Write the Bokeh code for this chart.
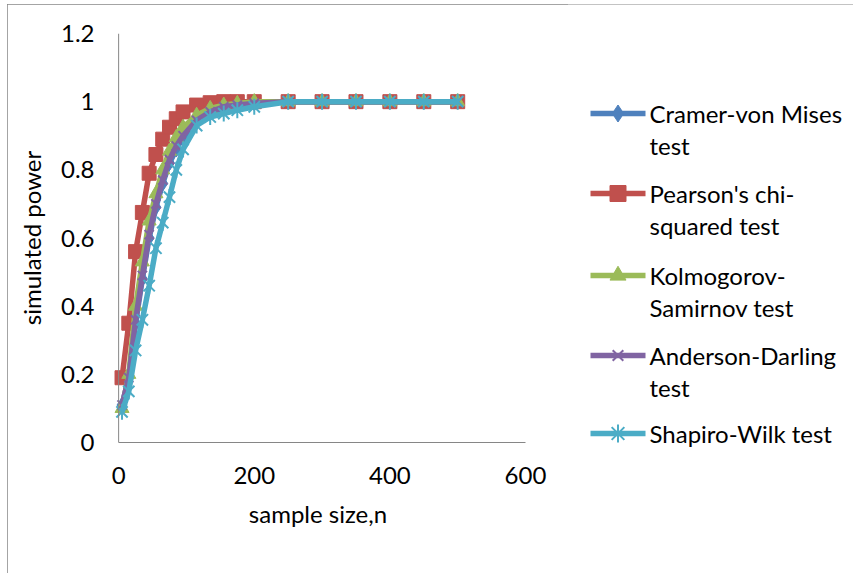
from bokeh.plotting import figure
from bokeh.layouts import row
from bokeh.models import Range1d, FixedTicker, Span
from bokeh.core.properties import value
from bokeh.embed import file_html
from bokeh.resources import INLINE
import math

# ---- data ----
sample_size = [5, 15, 25, 35, 45, 55, 65, 75, 85, 95, 115, 135, 155, 175, 200,
               250, 300, 350, 400, 450, 500]
cramer_von_mises = [0.11, 0.19, 0.35, 0.48, 0.60, 0.69, 0.76, 0.82, 0.86, 0.895,
                    0.94, 0.965, 0.98, 0.99, 0.995, 1, 1, 1, 1, 1, 1]
pearson_chi_squared = [0.19, 0.35, 0.56, 0.675, 0.79, 0.845, 0.89, 0.925, 0.95, 0.97,
                       0.99, 0.997, 1.0, 1.0, 1.0, 1, 1, 1, 1, 1, 1]
kolmogorov_smirnov = [0.10, 0.20, 0.40, 0.53, 0.65, 0.73, 0.80, 0.855, 0.895, 0.925,
                      0.96, 0.98, 0.99, 0.995, 1.0, 1, 1, 1, 1, 1, 1]
anderson_darling = [0.11, 0.19, 0.36, 0.49, 0.61, 0.70, 0.77, 0.83, 0.87, 0.90,
                    0.945, 0.97, 0.985, 0.99, 0.995, 1, 1, 1, 1, 1, 1]
shapiro_wilk = [0.09, 0.15, 0.27, 0.36, 0.46, 0.57, 0.645, 0.72, 0.80, 0.86,
                0.93, 0.955, 0.965, 0.975, 0.985, 1, 1, 1, 1, 1, 1]

x_ticks = [0, 200, 400, 600]
y_ticks = [0, 0.2, 0.4, 0.6, 0.8, 1.0, 1.2]
y_tick_labels = ["0", "0.2", "0.4", "0.6", "0.8", "1", "1.2"]

legend_lines = [
    ["Cramer-von Mises", "test"],
    ["Pearson's chi-", "squared test"],
    ["Kolmogorov-", "Samirnov test"],
    ["Anderson-Darling", "test"],
    ["Shapiro-Wilk test"],
]

# ---- styles ----
FONT = "Lato"
FS = "24px"
AXIS_COLOR = "#868686"
colors = ["#4F81BD", "#C0504D", "#9BBB59", "#8064A2", "#4BACC6"]
series = [cramer_von_mises, pearson_chi_squared, kolmogorov_smirnov,
          anderson_darling, shapiro_wilk]
markers = ["diamond", "square", "triangle", "x", "star6"]
msizes = [15, 14, 14, 13, 16]

TOP_M, LEFT_M = 4, 7
W1, W2, H = 560, 286, 570

p = figure(width=W1, height=H, output_backend="svg", toolbar_location=None,
           x_range=Range1d(-12, 600), y_range=Range1d(0, 1.2),
           min_border_left=103, min_border_right=42,
           min_border_top=29, min_border_bottom=132)
p.outline_line_color = None
p.grid.visible = False
p.background_fill_color = "white"
p.border_fill_color = "white"

p.xaxis.ticker = FixedTicker(ticks=x_ticks)
p.xaxis.bounds = (0, 600)
p.yaxis.ticker = FixedTicker(ticks=y_ticks)
p.yaxis.major_label_overrides = dict(zip(y_ticks, y_tick_labels))
for ax in (p.xaxis, p.yaxis):
    ax.major_tick_line_color = None
    ax.minor_tick_line_color = None
    ax.axis_line_color = AXIS_COLOR
    ax.major_label_text_font = FONT
    ax.major_label_text_font_size = FS
    ax.major_label_text_color = "black"
    ax.axis_label_text_font = FONT
    ax.axis_label_text_font_size = FS
    ax.axis_label_text_font_style = "normal"
    ax.axis_label_text_color = "black"
p.yaxis.axis_line_color = None
p.xaxis.major_label_standoff = 18
p.xaxis.axis_label = "sample size,n"
p.xaxis.axis_label_standoff = 12
p.yaxis.major_label_standoff = 10
p.yaxis.axis_label = "simulated power"
p.yaxis.axis_label_standoff = 12

p.add_layout(Span(location=0, dimension="height", line_color=AXIS_COLOR, line_width=1))

def draw_marker(fig, xs, ys, mk, size, color):
    if mk == "star6":
        fig.scatter(xs, ys, marker="x", size=size, line_color=color, line_width=2)
        fig.scatter(xs, ys, marker="dash", size=size, angle=math.pi / 2,
                    line_color=color, line_width=2)
    elif mk == "x":
        fig.scatter(xs, ys, marker="x", size=size, line_color=color, line_width=2)
    else:
        fig.scatter(xs, ys, marker=mk, size=size, fill_color=color, line_color=color)

for vals, c, mk, ms in zip(series, colors, markers, msizes):
    p.line(sample_size, vals, line_color=c, line_width=5.5)
    draw_marker(p, sample_size, vals, mk, ms, c)

# ---- legend panel (pixel coordinates of the page) ----
leg = figure(width=W2, height=H, output_backend="svg", toolbar_location=None,
             x_range=Range1d(LEFT_M + W1, LEFT_M + W1 + W2),
             y_range=Range1d(TOP_M + H, TOP_M),
             x_axis_type=None, y_axis_type=None, min_border=0)
leg.frame_align = False
leg.outline_line_color = None
leg.grid.visible = False

item_y = [113, 193, 275, 355, 433]
line_gap = 32
x0, x1, tx = 590, 645, 649
for lines, y, c, mk, ms in zip(legend_lines, item_y, colors, markers, msizes):
    leg.line([x0, x1], [y, y], line_color=c, line_width=5.5)
    draw_marker(leg, [(x0 + x1) / 2], [y], mk, ms + 2, c)
    leg.text([tx] * len(lines), [y + i * line_gap for i in range(len(lines))],
             text=lines, text_font=value(FONT), text_font_size=FS,
             text_baseline="middle", text_align="left", text_color="black")

layout = row(p, leg, margin=(TOP_M, 0, 0, LEFT_M),
             styles={"outline": "1px solid " + AXIS_COLOR, "outline-offset": "-1px"})

html = file_html(layout, INLINE)
html = html.replace("<head>", "<head><style>html,body{margin:0;padding:0;}</style>", 1)
open("out.html", "w").write(html)
